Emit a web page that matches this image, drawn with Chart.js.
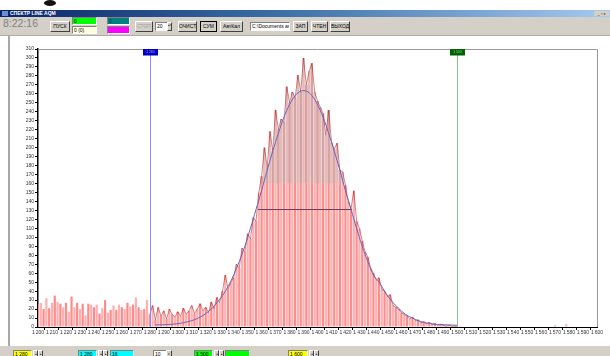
<!DOCTYPE html>
<html>
<head>
<meta charset="utf-8">
<script src="https://cdn.jsdelivr.net/npm/chart.js@4.4.1/dist/chart.umd.min.js"></script>
<style>
  body { margin: 0; width: 610px; height: 356px; overflow: hidden; background: #fff; position: relative;
         font-family: "Liberation Sans", Arial, sans-serif; }
  .a { position: absolute; box-sizing: border-box; white-space: nowrap; overflow: hidden; }
  #title { left: 0; top: 10px; width: 610px; height: 7px; background: linear-gradient(to right, #0a246a, #3a6ea5 45%, #a6caf0);
           color: #fff; font-size: 5px; font-weight: bold; line-height: 7px; padding-left: 10px; }
  #tools { left: 0; top: 17px; width: 610px; height: 19px; background: #d4d0c8; border-bottom: 1px solid #b0aca4; }
  .btn { background: #d4d0c8; border: 1px solid; border-color: #fff #404040 #404040 #fff; font-size: 5px;
         text-align: center; line-height: 9px; color: #000; }
  .box { border: 1px solid; border-color: #808080 #fff #fff #808080; font-size: 5px; line-height: 6px; padding-left: 1px; color: #000; }
  #status { left: 0; top: 346px; width: 610px; height: 10px; background: #d4d0c8; }
  #side { left: 8px; top: 36px; width: 2px; height: 310px; background: #a8a8a8; }
  #spec { position: absolute; left: 0; top: 36px; }
</style>
</head>
<body>
<div class="a" style="left:44px;top:0;width:12px;height:6px;border-radius:50%;background:#111"></div>
<div class="a" id="title">СПЕКТР LINE AQM</div>
<div class="a" style="left:2px;top:11px;width:6px;height:5px;background:#6b8fd0"></div>
<div class="a" style="left:594px;top:11px;width:15px;height:5px;background:#d4d0c8;font-size:4px;line-height:5px;text-align:center">_ ▫ x</div>
<div class="a" id="tools"></div>
<div class="a" style="left:3px;top:18px;font-size:10.5px;color:#808080;line-height:10px">8:22:16</div>
<div class="a btn" style="left:50px;top:21px;width:20px;height:11px">ПУСК</div>
<div class="a box" style="left:72px;top:17px;width:25px;height:8px;background:#00ff00">0</div>
<div class="a box" style="left:72px;top:26px;width:25px;height:8px;background:#ffffe0">0 (0)</div>
<div class="a box" style="left:107px;top:17px;width:23px;height:8px;background:#008080;color:#003030">0</div>
<div class="a box" style="left:107px;top:26px;width:23px;height:8px;background:#ff00ff"></div>
<div class="a btn" style="left:135px;top:21px;width:18px;height:11px;color:#a0a0a0">СТОП</div>
<div class="a box" style="left:155px;top:22px;width:17px;height:9px;background:#fff;line-height:7px">20</div>
<div class="a btn" style="left:167px;top:22px;width:5px;height:9px;line-height:4px;font-size:3px">▴▾</div>
<div class="a btn" style="left:178px;top:21px;width:19px;height:11px">ОЧИСТ</div>
<div class="a btn" style="left:200px;top:21px;width:17px;height:11px;border:1px solid #000">СУМ</div>
<div class="a btn" style="left:220px;top:21px;width:23px;height:11px">АвтКал</div>
<div class="a box" style="left:250px;top:22px;width:40px;height:9px;background:#fff;line-height:7px">C:\Documents and</div>
<div class="a btn" style="left:293px;top:21px;width:15px;height:11px">ЗАП</div>
<div class="a btn" style="left:311px;top:21px;width:17px;height:11px">ЧТЕН</div>
<div class="a btn" style="left:330px;top:21px;width:20px;height:11px">ВЫХОД</div>
<div class="a" id="side"></div>
<canvas id="spec" width="610" height="311"></canvas>
<div class="a" id="status"></div>
<div class="a box" style="left:13px;top:350px;width:19px;height:8px;background:#ffff00">1 280</div>
<div class="a btn" style="left:33px;top:350px;width:5px;height:8px;font-size:3px;line-height:6px">◂</div>
<div class="a btn" style="left:38px;top:350px;width:5px;height:8px;font-size:3px;line-height:6px">▸</div>
<div class="a box" style="left:78px;top:350px;width:19px;height:8px;background:#00ffff">1 280</div>
<div class="a btn" style="left:98px;top:350px;width:5px;height:8px;font-size:3px;line-height:6px">◂</div>
<div class="a btn" style="left:103px;top:350px;width:5px;height:8px;font-size:3px;line-height:6px">▸</div>
<div class="a box" style="left:110px;top:350px;width:24px;height:8px;background:#00ffff">16</div>
<div class="a box" style="left:153px;top:350px;width:19px;height:8px;background:#fff">10</div>
<div class="a btn" style="left:166px;top:350px;width:6px;height:8px;font-size:3px;line-height:6px">▾</div>
<div class="a box" style="left:194px;top:350px;width:19px;height:8px;background:#00ff00">1 500</div>
<div class="a btn" style="left:214px;top:350px;width:5px;height:8px;font-size:3px;line-height:6px">◂</div>
<div class="a btn" style="left:219px;top:350px;width:5px;height:8px;font-size:3px;line-height:6px">▸</div>
<div class="a box" style="left:225px;top:350px;width:25px;height:8px;background:#00ff00"></div>
<div class="a box" style="left:288px;top:350px;width:20px;height:8px;background:#ffff00">1 600</div>
<div class="a btn" style="left:309px;top:350px;width:5px;height:8px;font-size:3px;line-height:6px">◂</div>
<div class="a btn" style="left:314px;top:350px;width:5px;height:8px;font-size:3px;line-height:6px">▸</div>

<script>
// spectrum: one value per 2-channel bin, starting at channel 1200
const firstChannel = 1200;
const channelStep = 2;
const counts = [
  25, 27, 20, 32, 21, 27, 35, 28, 26, 22,
  27, 17, 34, 22, 27, 20, 26, 13, 26, 25,
  22, 25, 15, 21, 30, 16, 19, 24, 19, 25,
  22, 20, 27, 23, 25, 33, 22, 19, 20, 30,
  14, 24, 8, 22, 12, 18, 9, 20, 14, 11,
  17, 12, 21, 14, 18, 24, 15, 20, 26, 18,
  22, 16, 28, 20, 33, 27, 40, 58, 42, 50,
  55, 70, 66, 88, 84, 104, 98, 122, 118, 150,
  168, 200, 178, 218, 196, 242, 220, 232, 228, 268,
  250, 262, 255, 281, 262, 300, 270, 285, 294, 262,
  252, 245, 238, 214, 242, 206, 198, 205, 175, 173,
  158, 140, 132, 152, 118, 110, 96, 84, 78, 66,
  60, 52, 55, 42, 40, 34, 36, 24, 22, 20,
  16, 14, 12, 9, 11, 7, 8, 5, 6, 4,
  5, 3, 4, 2, 3, 2, 1, 2, 1, 1,
  0, 1, 0, 0, 0, 0, 0, 0, 0, 0,
  0, 0, 0, 0, 0, 0, 0, 0, 0, 0,
  0, 0, 0, 0, 0, 0, 0, 0, 0, 0,
  0, 0, 0, 0, 0, 2, 0, 0, 0, 3,
  0, 0, 0, 0, 0, 0, 0, 0, 0, 0
];

// gaussian fit, sampled every 4 channels from 1284
const fitStart = 1284;
const fitStep = 4;
const fitValues = [
  2.3, 2.4, 2.7, 3.1, 3.8, 4.8, 6.2, 8.2, 11, 15,
  20, 27, 35, 45, 58, 73, 90, 110, 131, 152,
  175, 196, 216, 234, 248, 258, 263, 263, 258, 248,
  234, 216, 196, 175, 152, 131, 110, 90, 73, 58,
  50, 40, 31, 24, 18, 13, 10, 7, 5, 4,
  3, 2.7, 2.4, 2.2, 2
];

// markers (ROI borders), half-height line, highlighted part
const roiStart = 1280;
const roiEnd = 1500;
const markerColors = ['#0000c8', '#006400'];
const markerLines = ['#8c8cff', '#8cc08c'];
const fwhmFrom = 1357.5;
const fwhmTo = 1424.5;
const fwhmLevel = 131;
const highFrom = 1358;
const highTo = 1420;
const highLevel = 160;

const xMin = 1200, xMax = 1600, yMax = 310;

const bins = counts.map((c, i) => ({ x: firstChannel + i * channelStep, y: c }));
const roiLine = bins.filter(p => p.x >= roiStart && p.x <= roiEnd);
const highBars = bins.filter(p => p.x >= highFrom && p.x <= highTo && p.y > highLevel)
  .map(p => ({ x: p.x, y: [highLevel, p.y] }));
const fitLine = fitValues.map((v, i) => ({ x: fitStart + i * fitStep, y: v }));

function fmt(v) {
  const s = String(v);
  return s.length > 3 ? s.slice(0, s.length - 3) + '\u2009' + s.slice(-3) : s;
}

const framePlugin = {
  id: 'frame',
  beforeDatasetsDraw(chart) {
    const { ctx, chartArea: a } = chart;
    ctx.save();
    ctx.strokeStyle = '#9a9a9a';
    ctx.lineWidth = 1;
    ctx.beginPath();
    ctx.moveTo(a.left, a.top + 0.5);
    ctx.lineTo(a.right + 0.5, a.top + 0.5);
    ctx.lineTo(a.right + 0.5, a.bottom);
    ctx.stroke();
    ctx.restore();
  },
  afterDatasetsDraw(chart) {
    const { ctx, chartArea: a, scales: { x } } = chart;
    ctx.save();
    [roiStart, roiEnd].forEach((v, i) => {
      const px = Math.round(x.getPixelForValue(v)) + 0.5;
      ctx.strokeStyle = markerLines[i];
      ctx.lineWidth = 1;
      ctx.beginPath();
      ctx.moveTo(px, a.top);
      ctx.lineTo(px, a.bottom);
      ctx.stroke();
      ctx.fillStyle = markerColors[i];
      ctx.fillRect(px - 7.5, a.top, 15, 6.5);
      ctx.fillStyle = 'rgba(255,255,255,0.55)';
      ctx.font = '3.5px "Liberation Sans"';
      ctx.textAlign = 'center';
      ctx.textBaseline = 'middle';
      ctx.fillText(fmt(v), px, a.top + 3.3);
    });
    ctx.restore();
  }
};

const tickFont = { family: '"Liberation Sans", Arial, sans-serif', size: 5 };

new Chart(document.getElementById('spec'), {
  type: 'bar',
  data: {
    datasets: [
      {
        type: 'line', label: 'fit', data: fitLine, order: 0,
        borderColor: '#6464bc', borderWidth: 1, pointRadius: 0, tension: 0.4, fill: false
      },
      {
        type: 'line', label: 'fwhm', data: [{ x: fwhmFrom, y: fwhmLevel }, { x: fwhmTo, y: fwhmLevel }], order: 1,
        borderColor: '#6e3c5a', borderWidth: 1, pointRadius: 0, fill: false
      },
      {
        type: 'line', label: 'roi', data: roiLine, order: 2,
        borderColor: 'rgba(170,20,20,0.75)', borderWidth: 0.7, pointRadius: 0, tension: 0, fill: false
      },
      {
        label: 'high', data: highBars, order: 3, grouped: false,
        backgroundColor: c => c.dataIndex % 2 ? '#e0bcbc' : '#d4a4a4',
        barPercentage: 0.8, categoryPercentage: 1, borderWidth: 0
      },
      {
        label: 'counts', data: bins, order: 4, grouped: false,
        backgroundColor: c => c.dataIndex % 2 ? '#ffb0b0' : '#ff8c8c',
        barPercentage: 0.8, categoryPercentage: 1, borderWidth: 0
      }
    ]
  },
  options: {
    responsive: false,
    animation: false,
    devicePixelRatio: 1,
    layout: { padding: { left: 8, right: 13, top: 13, bottom: 6 } },
    plugins: { legend: { display: false }, tooltip: { enabled: false } },
    scales: {
      x: {
        type: 'linear', min: xMin, max: xMax, offset: false,
        afterFit: s => { s.height = 14; },
        ticks: { stepSize: 10, autoSkip: false, maxRotation: 0, padding: 0, color: '#333', font: tickFont, callback: fmt },
        grid: { drawOnChartArea: false, drawTicks: true, tickLength: 3, color: '#000' },
        border: { color: '#000', width: 1 }
      },
      y: {
        min: 0, max: yMax,
        afterFit: s => { s.width = 30; },
        ticks: { stepSize: 10, autoSkip: false, padding: 1, color: '#333', font: tickFont },
        grid: { drawOnChartArea: false, drawTicks: true, tickLength: 3, color: '#000' },
        border: { color: '#000', width: 1.5 }
      }
    }
  },
  plugins: [framePlugin]
});
</script>
</body>
</html>
